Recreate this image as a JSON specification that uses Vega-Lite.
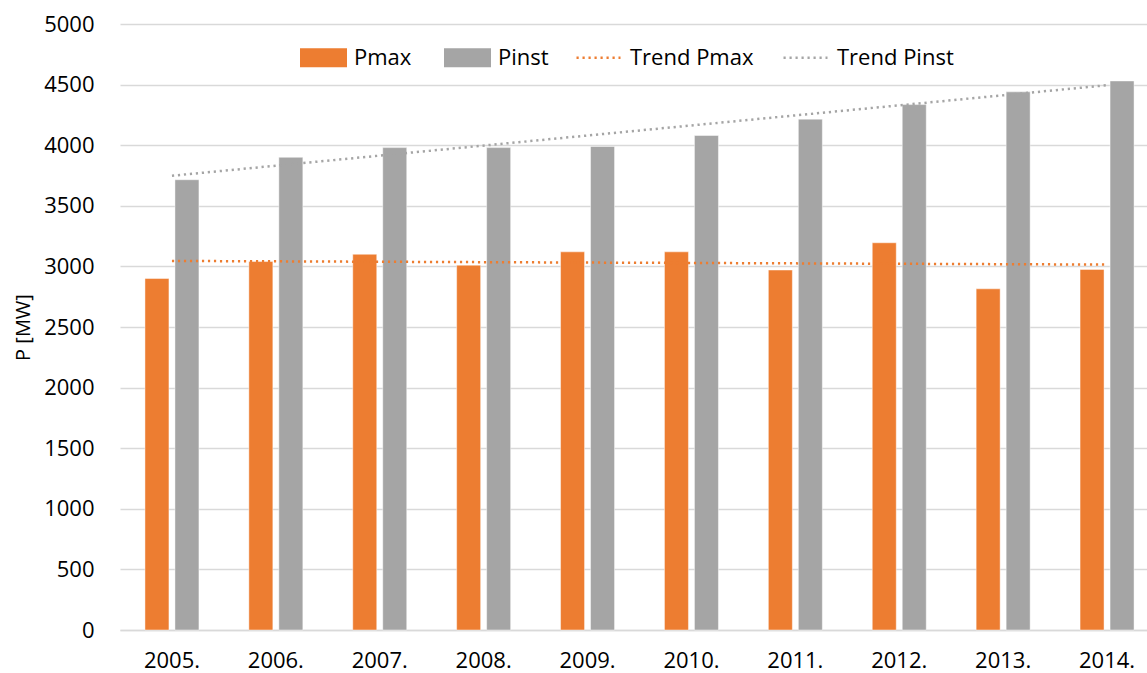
{
  "$schema": "https://vega.github.io/schema/vega-lite/v6.json",
  "width": 1027,
  "height": 606,
  "autosize": {"type": "none"},
  "padding": {"left": 120, "top": 24, "right": 0, "bottom": 43},
  "background": "white",
  "config": {
    "view": {"stroke": null},
    "font": "Open Sans",
    "axis": {"labelFont": "Open Sans", "titleFont": "Open Sans", "labelColor": "#000000", "titleColor": "#000000"},
    "legend": {"labelFont": "Open Sans", "labelColor": "#000000"}
  },
  "datasets": {
    "bars": [
      {"year": "2005.", "series": "Pmax", "value": 2900},
      {"year": "2005.", "series": "Pinst", "value": 3715},
      {"year": "2006.", "series": "Pmax", "value": 3040},
      {"year": "2006.", "series": "Pinst", "value": 3900},
      {"year": "2007.", "series": "Pmax", "value": 3100},
      {"year": "2007.", "series": "Pinst", "value": 3980},
      {"year": "2008.", "series": "Pmax", "value": 3010},
      {"year": "2008.", "series": "Pinst", "value": 3980},
      {"year": "2009.", "series": "Pmax", "value": 3120},
      {"year": "2009.", "series": "Pinst", "value": 3990},
      {"year": "2010.", "series": "Pmax", "value": 3120},
      {"year": "2010.", "series": "Pinst", "value": 4080},
      {"year": "2011.", "series": "Pmax", "value": 2970},
      {"year": "2011.", "series": "Pinst", "value": 4215},
      {"year": "2012.", "series": "Pmax", "value": 3195},
      {"year": "2012.", "series": "Pinst", "value": 4335},
      {"year": "2013.", "series": "Pmax", "value": 2815},
      {"year": "2013.", "series": "Pinst", "value": 4440},
      {"year": "2014.", "series": "Pmax", "value": 2975},
      {"year": "2014.", "series": "Pinst", "value": 4530}
    ],
    "trends": [
      {"year": "2005.", "trend": "Trend Pmax", "value": 3045},
      {"year": "2014.", "trend": "Trend Pmax", "value": 3015},
      {"year": "2005.", "trend": "Trend Pinst", "value": 3748},
      {"year": "2014.", "trend": "Trend Pinst", "value": 4495}
    ]
  },
  "layer": [
    {
      "data": {"name": "bars"},
      "mark": {"type": "bar", "stroke": "#ffffff", "strokeWidth": 1, "strokeOpacity": 0.45},
      "encoding": {
        "x": {
          "field": "year", "type": "nominal", "sort": null,
          "scale": {"range": [0, 1039], "paddingInner": 0, "paddingOuter": 0},
          "axis": {
            "title": null, "labelAngle": 0, "ticks": false, "grid": false,
            "domain": true, "domainColor": "#D9D9D9", "domainWidth": 1.5,
            "labelFontSize": 22, "labelPadding": 20
          }
        },
        "xOffset": {
          "field": "series", "type": "nominal",
          "scale": {"domain": ["Pmax", "Pinst"], "paddingInner": 0.2, "paddingOuter": 0.832}
        },
        "y": {
          "field": "value", "type": "quantitative",
          "scale": {"domain": [0, 5000], "nice": false},
          "axis": {
            "title": "P [MW]", "titleFontSize": 20, "titleFontWeight": "normal", "titlePadding": 10,
            "values": [0, 500, 1000, 1500, 2000, 2500, 3000, 3500, 4000, 4500, 5000],
            "format": "d",
            "ticks": false, "domain": false, "grid": true, "gridColor": "#D9D9D9", "gridWidth": 1.5,
            "labelFontSize": 22, "labelPadding": 26
          }
        },
        "fill": {
          "field": "series", "type": "nominal",
          "scale": {"domain": ["Pmax", "Pinst"], "range": ["#ED7D31", "#A5A5A5"]},
          "legend": {
            "title": null, "orient": "none", "direction": "horizontal",
            "legendX": 180, "legendY": 10, "padding": 0,
            "symbolType": "M-1,-0.404H1V0.404H-1Z", "symbolSize": 2209, "symbolStrokeWidth": 0,
            "symbolOpacity": 1,
            "labelFontSize": 22, "labelOffset": 7, "columnPadding": 32
          }
        }
      }
    },
    {
      "data": {"name": "trends"},
      "mark": {"type": "line", "strokeWidth": 2.5, "strokeDash": [2.2, 3.8]},
      "encoding": {
        "x": {"field": "year", "type": "nominal", "sort": null},
        "y": {"field": "value", "type": "quantitative"},
        "detail": {"field": "trend"},
        "stroke": {
          "field": "trend", "type": "nominal",
          "scale": {"domain": ["Trend Pmax", "Trend Pinst"], "range": ["#ED7D31", "#A5A5A5"]},
          "legend": {
            "title": null, "orient": "none", "direction": "horizontal",
            "legendX": 455, "legendY": 10, "padding": 0,
            "symbolType": "stroke", "symbolSize": 1936, "symbolStrokeWidth": 2.5,
            "symbolDash": [2.2, 3.8],
            "labelFontSize": 22, "labelOffset": 8, "columnPadding": 24
          }
        }
      }
    }
  ]
}
